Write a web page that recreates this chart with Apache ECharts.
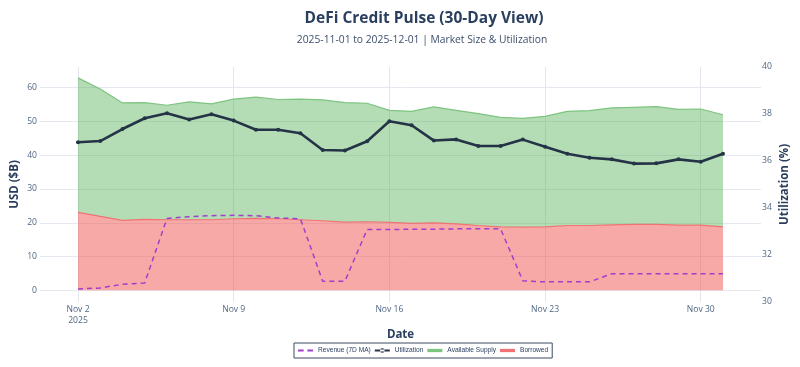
<!DOCTYPE html>
<html><head><meta charset="utf-8">
<script src="https://cdn.jsdelivr.net/npm/echarts@6/dist/echarts.min.js"></script>
<style>html,body{margin:0;padding:0;background:#fff}#c{width:800px;height:367px}</style>
</head><body><div id="c"></div>
<script>
const dates = ['2025-11-02','2025-11-03','2025-11-04','2025-11-05','2025-11-06','2025-11-07','2025-11-08','2025-11-09','2025-11-10','2025-11-11','2025-11-12','2025-11-13','2025-11-14','2025-11-15','2025-11-16','2025-11-17','2025-11-18','2025-11-19','2025-11-20','2025-11-21','2025-11-22','2025-11-23','2025-11-24','2025-11-25','2025-11-26','2025-11-27','2025-11-28','2025-11-29','2025-11-30','2025-12-01'];
const borrowed = [23.1,21.9,20.7,21.0,20.9,20.9,20.9,21.2,21.3,21.2,20.9,20.6,20.2,20.3,20.1,19.8,20.0,19.7,19.2,18.8,18.7,18.8,19.2,19.2,19.4,19.5,19.5,19.3,19.3,18.8];
const availableSupply = [39.8,37.7,34.8,34.6,33.9,34.9,34.3,35.4,35.9,35.3,35.7,35.8,35.4,35.1,33.2,33.2,34.3,33.6,33.1,32.4,32.2,32.7,33.8,34.0,34.6,34.7,34.9,34.3,34.4,33.2];
const utilization = [36.80,36.85,37.36,37.82,38.03,37.77,37.99,37.72,37.33,37.33,37.18,36.47,36.45,36.84,37.69,37.52,36.87,36.92,36.64,36.64,36.91,36.61,36.31,36.14,36.07,35.89,35.90,36.07,35.97,36.31];
const revenue7dMA = [0.4,0.7,1.8,2.2,21.3,21.8,22.1,22.2,22.1,21.4,21.2,2.7,2.7,18.0,18.0,18.1,18.1,18.2,18.2,18.2,2.8,2.5,2.5,2.5,4.9,4.9,4.9,4.9,4.9,4.9];
const xTickDates = ['2025-11-02','2025-11-09','2025-11-16','2025-11-23','2025-11-30'];
const leftTicks = [0,10,20,30,40,50,60];

const DAY = 86400000;
function ts(s){const p=s.split('-');return new Date(+p[0],+p[1]-1,+p[2]).getTime();}
const MONTHS=['Jan','Feb','Mar','Apr','May','Jun','Jul','Aug','Sep','Oct','Nov','Dec'];
const xs = dates.map(ts);
const xTicks = xTickDates.map(ts);
// value first, date second, so that stacking acts on the value dimension
const pair = arr => xs.map((x,i)=>[arr[i],x]);
const ENC = {x:1,y:0};
const FONT = '"Open Sans", Verdana, sans-serif';
const chart = echarts.init(document.getElementById('c'));
chart.setOption({
  animation:false,
  backgroundColor:'#fff',
  title:[
    {text:'DeFi Credit Pulse (30-Day View)', left:419, top:6, textAlign:'center',
     textStyle:{fontFamily:FONT,fontWeight:'bold',fontSize:15.5,color:'#2a3f5f'}},
    {text:'2025-11-01 to 2025-12-01 | Market Size & Utilization', left:417, top:30, textAlign:'center',
     textStyle:{fontFamily:FONT,fontWeight:'normal',fontSize:10.3,color:'#3d4f6b'}}
  ],
  legend:{
    left:294, top:343, orient:'horizontal',
    padding:[4,4], itemGap:4, itemWidth:15, itemHeight:7,
    borderColor:'#3b4a60', borderWidth:1,
    textStyle:{fontFamily:'"Liberation Sans", Arial, sans-serif',fontSize:6.6,color:'#2a3f5f'},
    data:[
      {name:'Revenue (7D MA)', icon:'path://M0,0H6V2.2H0Z M10,0H16V2.2H10Z'},
      {name:'Utilization', icon:'path://M0,1.5H16V3.5H0Z M8,0A2.5,2.5 0 1 0 8.01,0Z'},
      {name:'Available Supply', icon:'path://M0,0H16V3.5H0Z'},
      {name:'Borrowed', icon:'path://M0,0H16V3.5H0Z'}
    ]
  },
  grid:{left:40,right:39,top:67,bottom:65,containLabel:false,outerBoundsMode:'none'},
  xAxis:{
    type:'value',
    min:xs[0]-1.709*DAY, max:xs[xs.length-1]+1.709*DAY,
    name:'Date', nameLocation:'middle', nameGap:27, nameMoveOverlap:false,
    nameTextStyle:{fontFamily:FONT,fontWeight:'bold',fontSize:11.5,color:'#2a3f5f'},
    axisLine:{show:false},
    axisTick:{show:false,customValues:xTicks},
    axisLabel:{customValues:xTicks,margin:2,lineHeight:11,fontFamily:FONT,fontSize:8.6,color:'#506784',
      formatter:function(v){const d=new Date(v);let s=MONTHS[d.getMonth()]+' '+d.getDate(); if(v===xTicks[0]) s+='\n'+d.getFullYear(); return s;}},
    splitLine:{show:true,lineStyle:{color:'#e2e5eb',width:1}}
  },
  yAxis:[
    {type:'value', min:-3.46, max:66.13,
     name:'USD ($B)', nameLocation:'middle', nameGap:19, nameRotate:90, nameMoveOverlap:false,
     nameTextStyle:{fontFamily:FONT,fontWeight:'bold',fontSize:11.5,color:'#2a3f5f'},
     axisLine:{show:false},
     axisTick:{show:false,customValues:leftTicks},
     axisLabel:{customValues:leftTicks,margin:3,fontFamily:FONT,fontSize:8.6,color:'#506784'},
     splitLine:{show:true,lineStyle:{color:'#e5e8ee',width:1}}},
    {type:'value', min:30, max:40, interval:2, position:'right',
     name:'Utilization (%)', nameLocation:'middle', nameGap:18, nameRotate:90, nameMoveOverlap:false,
     nameTextStyle:{fontFamily:FONT,fontWeight:'bold',fontSize:11.5,color:'#2a3f5f'},
     axisLine:{show:false}, axisTick:{show:false},
     axisLabel:{margin:1,fontFamily:FONT,fontSize:8.6,color:'#506784'},
     splitLine:{show:false}}
  ],
  series:[
    {name:'Borrowed', type:'line', stack:'supply', yAxisIndex:0, data:pair(borrowed),
     encode:ENC, symbol:'none', z:1,
     lineStyle:{color:'#f07272',width:1.2}, itemStyle:{color:'#f07272'},
     areaStyle:{color:'rgba(239,83,80,0.5)',opacity:1}},
    {name:'Available Supply', type:'line', stack:'supply', yAxisIndex:0, data:pair(availableSupply),
     encode:ENC, symbol:'none', z:1,
     lineStyle:{color:'#7cc47f',width:1.2}, itemStyle:{color:'#7cc47f'},
     areaStyle:{color:'rgba(76,175,80,0.42)',opacity:1}},
    {name:'Revenue (7D MA)', type:'line', yAxisIndex:0, data:pair(revenue7dMA),
     encode:ENC, symbol:'none', z:3,
     lineStyle:{color:'#a03fc9',width:1.5,type:[5,4]}, itemStyle:{color:'#a03fc9'}},
    {name:'Utilization', type:'line', yAxisIndex:1, data:pair(utilization),
     encode:ENC, symbol:'circle', symbolSize:4, z:4,
     lineStyle:{color:'#253346',width:2.6}, itemStyle:{color:'#253346'}}
  ]
});
</script></body></html>
